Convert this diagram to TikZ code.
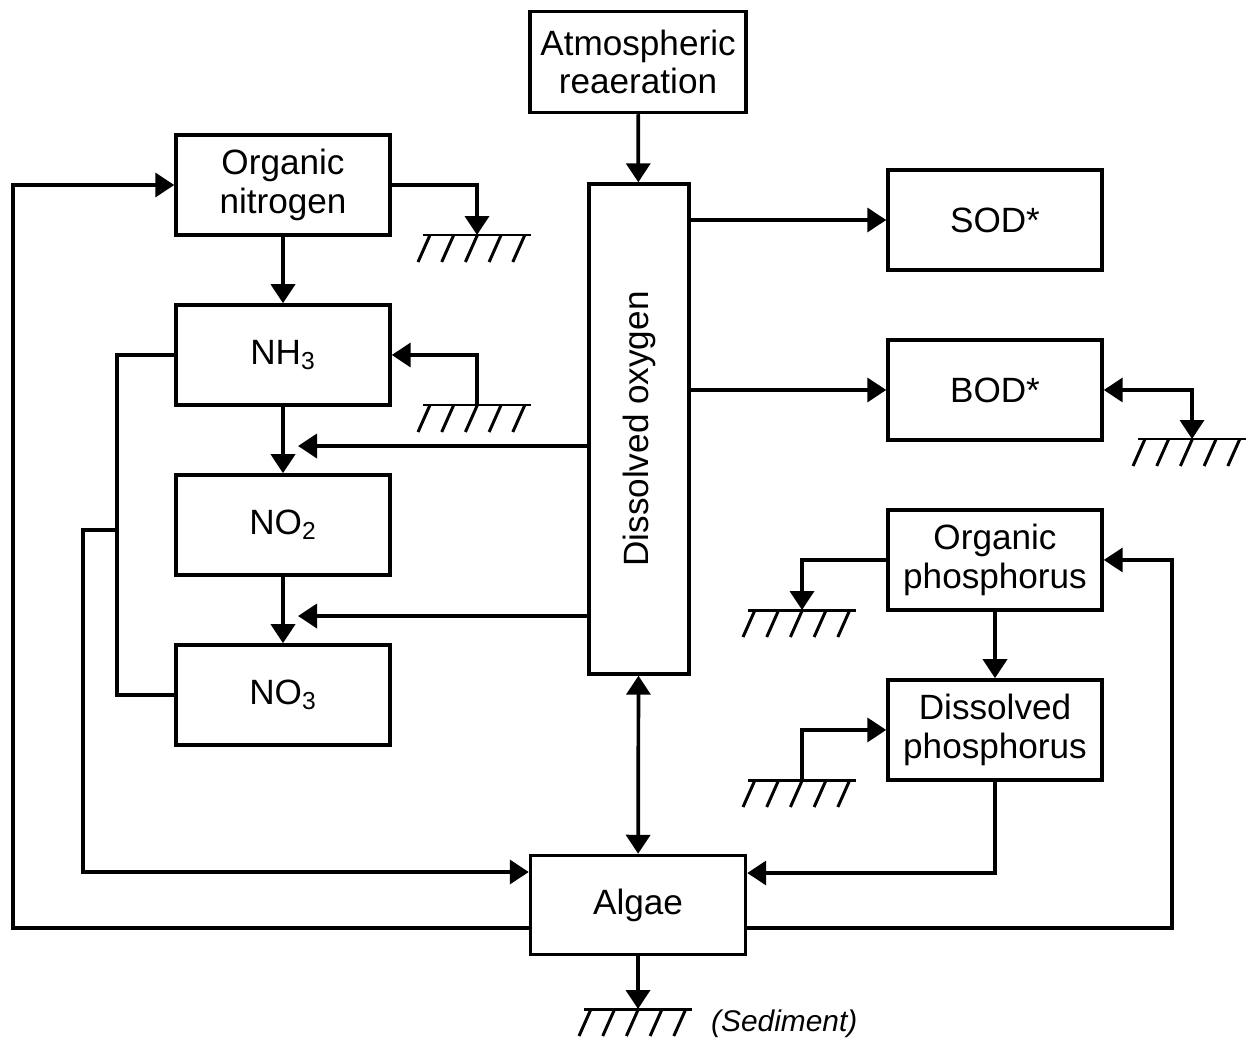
\documentclass[tikz,border=0pt]{standalone}
\usepackage{fontspec}
\setmainfont{Liberation Sans}
\usetikzlibrary{positioning,arrows.meta}

\tikzset{
  box/.style={draw, line width=2pt, minimum width=4.28cm, minimum height=2cm,
    align=center, inner sep=2pt, font=\fontsize{20}{22}\selectfont},
  flow/.style={line width=2.1pt, -{Triangle[length=0.38cm,width=0.48cm]}},
  both/.style={line width=2.1pt, {Triangle[length=0.38cm,width=0.48cm]}-{Triangle[length=0.38cm,width=0.48cm]}},
  wire/.style={line width=2.1pt},
  earth/.pic={
    \draw[line width=1.7pt] (-54,0) -- (54,0);
    \foreach \i in {0,...,4}
      \draw[line width=1.7pt] (-47+23.7*\i,0) -- ++(-12,27);
  }
}

\begin{document}
\begin{tikzpicture}[x=0.02cm, y=-0.02cm, node distance=1.33cm]
  \useasboundingbox (0,0) rectangle (1257,1041);

  % nitrogen column
  \node[box] (ON) at (283,185) {Organic\\nitrogen};
  \node[box, below=of ON] (NH3) {NH\textsubscript{3}};
  \node[box, below=of NH3] (NO2) {NO\textsubscript{2}};
  \node[box, below=of NO2] (NO3) {NO\textsubscript{3}};

  % oxygen
  \node[box, minimum width=4.32cm, minimum height=2.02cm] (Atmo) at (638,62) {Atmospheric\\reaeration};
  \node[box, minimum width=2cm, minimum height=9.8cm] (DO) at (639,429) {\rotatebox{90}{Dissolved oxygen}};
  \node[box, minimum width=4.3cm, minimum height=1.98cm] (Algae) at (638,905) {Algae};

  % right column
  \node[box] (SOD) at (995,220) {SOD*};
  \node[box, below=of SOD] (BOD) {BOD*};
  \node[box, below=of BOD] (OP) {Organic\\phosphorus};
  \node[box, below=of OP] (DP) {Dissolved\\phosphorus};

  % ground points
  \coordinate (g1) at (477,235);
  \coordinate (g2) at (477,405);
  \coordinate (g3) at (1192,439);
  \coordinate (g4) at (802,610);
  \coordinate (g5) at (802,780);
  \coordinate (g6) at (638,1009);
  \foreach \g in {g1,g2,g3,g4,g5,g6}
    \pic at (\g) {earth};
  \node[font=\fontsize{17}{20}\selectfont\itshape, anchor=west] (sed) at (705,1024) {(Sediment)};

  \coordinate (n2in) at (298,446);
  \coordinate (n3in) at (298,616);

  % vertical chain
  \draw[flow] (ON) -- (NH3);
  \draw[flow] (NH3) -- (NO2);
  \draw[flow] (NO2) -- (NO3);
  \draw[flow] (Atmo) -- (DO);
  \draw[both] (DO) -- (Algae);
  \draw[flow] (Algae) -- (g6);
  \draw[flow] (OP) -- (DP);

  % oxygen demand
  \draw[flow] (DO.east |- SOD.west) -- (SOD.west);
  \draw[flow] (DO.east |- BOD.west) -- (BOD.west);
  \draw[flow] (DO.west |- n2in) -- (n2in);
  \draw[flow] (DO.west |- n3in) -- (n3in);

  % exchange with bed
  \draw[flow] (ON.east) -| (g1);
  \draw[flow] (g2) |- (NH3.east);
  \draw[both] (BOD.east) -| (g3);
  \draw[flow] (OP.west) -| (g4);
  \draw[flow] (g5) |- (DP.west);

  % algae loops
  \draw[wire] (NH3.west) -- ++(-57,0) |- (NO3.west);
  \draw[flow] (119,530) -- (83,530) |- (Algae.west |- 0,872);
  \draw[flow] (Algae.west |- 0,928) -- (13,928) |- (ON.west);
  \draw[flow] (Algae.east |- 0,928) -- (1172,928) |- (OP.east);
  \draw[flow] (DP.south) |- (Algae.east |- 0,873);
\end{tikzpicture}
\end{document}
